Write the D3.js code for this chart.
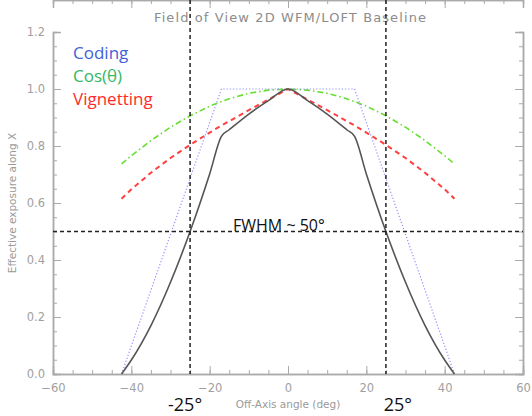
<!DOCTYPE html>
<html>
<head>
<meta charset="utf-8">
<title>Field of View 2D WFM/LOFT Baseline</title>
<script src="https://d3js.org/d3.v7.min.js"></script>
<style>
  body { margin: 0; background: #fff; }
  .tick text { fill: #a0a0a0; font-family: "DejaVu Sans", sans-serif; font-size: 11.5px; }
  .domain { stroke: #aaa; }
  .tick line { stroke: #aaa; }
</style>
</head>
<body>
<script>
// off-axis angles (deg) and curves
var angles = [-42.5, -40, -35, -30, -25, -20, -17, -15, -10, -5, 0, 5, 10, 15, 17, 20, 25, 30, 35, 40, 42.5];
var cosVals = [0.737, 0.766, 0.819, 0.866, 0.906, 0.940, 0.956, 0.966, 0.985, 0.996, 1.0, 0.996, 0.985, 0.966, 0.956, 0.940, 0.906, 0.866, 0.819, 0.766, 0.737];
var vignVals = [0.615, 0.648, 0.706, 0.758, 0.804, 0.847, 0.872, 0.887, 0.926, 0.963, 1.0, 0.963, 0.926, 0.887, 0.872, 0.847, 0.804, 0.758, 0.706, 0.648, 0.615];
var totalVals = [0.0, 0.049, 0.170, 0.322, 0.500, 0.702, 0.834, 0.857, 0.912, 0.959, 1.0, 0.959, 0.912, 0.857, 0.834, 0.702, 0.500, 0.322, 0.170, 0.049, 0.0];
var codingAngles = [-42.5, -17, 17, 42.5];
var codingVals = [0, 1, 1, 0];

var legendNames = ["Coding", "Cos(\u03b8)", "Vignetting"];
var legendColors = ["#3f5fd8", "#33b865", "#ff2b2b"];

var fwhmLevel = 0.5;
var fwhmAngles = [-25, 25];
var fwhmLabels = ["-25\u00b0", "25\u00b0"];

var xTicks = [-60, -40, -20, 0, 20, 40, 60];
var yTicks = [0, 0.2, 0.4, 0.6, 0.8, 1.0, 1.2];

var width = 532, height = 416;
var margin = {left: 53, right: 9, top: 32, bottom: 42};

var svg = d3.select("body").append("svg")
  .attr("width", width)
  .attr("height", height)
  .style("font-family", "DejaVu Sans, sans-serif");

var x = d3.scaleLinear().domain([-60, 60]).range([margin.left, width - margin.right]);
var y = d3.scaleLinear().domain([0, 1.2]).range([height - margin.bottom, margin.top]);

var minorX = d3.range(-60, 61, 5);
var minorY = d3.range(0, 1.2001, 0.05);

// axes, ticks pointing inward, mirrored on top/right
function drawAxis(axis, tr, labels) {
  var g = svg.append("g").attr("transform", tr).call(axis);
  if (!labels) g.selectAll("text").remove();
  return g;
}
var bottom = y.range()[0], top = y.range()[1];
var left = x.range()[0], right = x.range()[1];

drawAxis(d3.axisBottom(x).tickValues(minorX).tickSize(-4).tickFormat(""), "translate(0," + bottom + ")", false);
drawAxis(d3.axisTop(x).tickValues(minorX).tickSize(-4).tickFormat(""), "translate(0," + top + ")", false);
drawAxis(d3.axisLeft(y).tickValues(minorY).tickSize(-4).tickFormat(""), "translate(" + left + ",0)", false);
drawAxis(d3.axisRight(y).tickValues(minorY).tickSize(-4).tickFormat(""), "translate(" + right + ",0)", false);

var xb = drawAxis(d3.axisBottom(x).tickValues(xTicks).tickSize(-8).tickPadding(8).tickFormat(d3.format("d")), "translate(0," + bottom + ")", true);
drawAxis(d3.axisTop(x).tickValues(xTicks).tickSize(-8), "translate(0," + top + ")", false);
var yl = drawAxis(d3.axisLeft(y).tickValues(yTicks).tickSize(-8).tickPadding(8).tickFormat(d3.format(".1f")), "translate(" + left + ",0)", true);
drawAxis(d3.axisRight(y).tickValues(yTicks).tickSize(-8), "translate(" + right + ",0)", false);
svg.selectAll(".domain").attr("stroke", "#aaa").attr("stroke-width", 1.5);
xb.selectAll("text").attr("dy", "0.9em");

// titles
svg.append("text")
  .attr("x", 290).attr("y", 22)
  .attr("text-anchor", "middle")
  .attr("fill", "#8c8c8c")
  .attr("font-size", 13)
  .attr("textLength", 272).attr("lengthAdjust", "spacing")
  .text("Field of View  2D WFM/LOFT Baseline");

svg.append("text")
  .attr("x", 288).attr("y", 408)
  .attr("text-anchor", "middle")
  .attr("fill", "#9a9a9a")
  .attr("font-size", 10.5)
  .text("Off-Axis angle (deg)");

svg.append("text")
  .attr("transform", "translate(16," + y(0.6) + ") rotate(-90)")
  .attr("text-anchor", "middle")
  .attr("fill", "#9a9a9a")
  .attr("font-size", 10.5)
  .text("Effective exposure along X");

// curves
var line = d3.line().x(function (d) { return x(d[0]); }).y(function (d) { return y(d[1]); });

svg.append("path")
  .datum(d3.zip(angles, cosVals))
  .attr("d", line).attr("fill", "none")
  .attr("stroke", "#66dd33").attr("stroke-width", 1.6)
  .attr("stroke-dasharray", "6,3,1.5,3");

svg.append("path")
  .datum(d3.zip(angles, vignVals))
  .attr("d", line).attr("fill", "none")
  .attr("stroke", "#ff4040").attr("stroke-width", 2)
  .attr("stroke-dasharray", "5,4");

svg.append("path")
  .datum(d3.zip(codingAngles, codingVals))
  .attr("d", line).attr("fill", "none")
  .attr("stroke", "#8f8fff").attr("stroke-width", 1.2)
  .attr("stroke-dasharray", "1.2,2");

svg.append("path")
  .datum(d3.zip(angles, totalVals))
  .attr("d", d3.line().curve(d3.curveMonotoneX).x(function (d) { return x(d[0]); }).y(function (d) { return y(d[1]); }))
  .attr("fill", "none")
  .attr("stroke", "#555").attr("stroke-width", 1.6);

// FWHM guides
svg.append("line")
  .attr("x1", left).attr("x2", right)
  .attr("y1", y(fwhmLevel)).attr("y2", y(fwhmLevel))
  .attr("stroke", "#222").attr("stroke-width", 1.5)
  .attr("stroke-dasharray", "4,3");

svg.selectAll(".vguide")
  .data(fwhmAngles)
  .enter().append("line")
  .attr("class", "vguide")
  .attr("x1", function (d) { return x(d); }).attr("x2", function (d) { return x(d); })
  .attr("y1", top).attr("y2", bottom)
  .attr("stroke", "#222").attr("stroke-width", 1.5)
  .attr("stroke-dasharray", "4,3");

svg.selectAll(".vlabel")
  .data(fwhmAngles)
  .enter().append("text")
  .attr("class", "vlabel")
  .attr("x", function (d) { return x(d) + (d < 0 ? -5 : 12); })
  .attr("y", 411)
  .attr("text-anchor", "middle")
  .attr("font-family", "Open Sans, sans-serif")
  .attr("font-size", 18)
  .attr("fill", "#111")
  .text(function (d, i) { return fwhmLabels[i]; });

svg.append("text")
  .attr("x", 233).attr("y", y(fwhmLevel) - 1)
  .attr("font-family", "Open Sans, sans-serif")
  .attr("font-size", 16)
  .attr("fill", "#111")
  .text("FWHM ~ 50\u00b0");

// legend
svg.selectAll(".leg")
  .data(legendNames)
  .enter().append("text")
  .attr("class", "leg")
  .attr("x", 73)
  .attr("y", function (d, i) { return 59 + i * 23; })
  .attr("font-family", "Open Sans, sans-serif")
  .attr("font-size", 17)
  .attr("fill", function (d, i) { return legendColors[i]; })
  .text(function (d) { return d; });
</script>
</body>
</html>
